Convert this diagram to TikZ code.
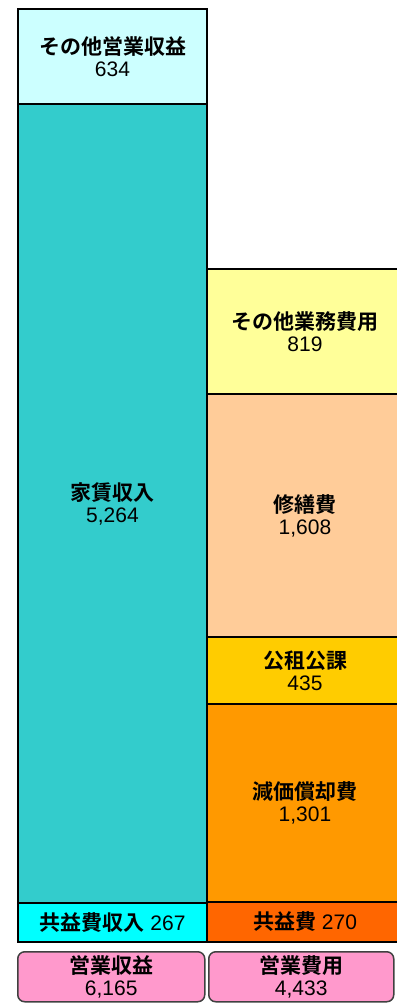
\documentclass[tikz,border=0pt]{standalone}
\usepackage{fontspec}
\usepackage{tikz}
\setmainfont{Liberation Sans}
\newfontfamily\jp{Noto Sans CJK JP}[BoldFont={Noto Sans CJK JP Bold}]
\definecolor{othinc}{HTML}{CCFFFF}
\definecolor{rentc}{HTML}{33CCCC}
\definecolor{kyoinc}{HTML}{00FFFF}
\definecolor{othexp}{HTML}{FFFF99}
\definecolor{repairc}{HTML}{FFCC99}
\definecolor{taxc}{HTML}{FFCC00}
\definecolor{deprc}{HTML}{FF9900}
\definecolor{kyoexp}{HTML}{FF6600}
\definecolor{sumc}{HTML}{FF99CC}
\newcommand\jl[2]{{\jp\bfseries #1}\\#2}
\tikzset{
	block/.style={draw=black, line width=2pt, inner sep=0pt, anchor=north west,
		align=center, font=\fontsize{21}{22}\selectfont},
	pill/.style={block, draw=black!75, line width=1.5pt, rounded corners=7pt, fill=sumc},
}

\begin{document}
\begin{tikzpicture}[x=1pt, y=-1pt]
		\useasboundingbox (0,0) rectangle (396,1003);
		\coordinate (L) at (17, 0);
		\coordinate (R) at (206, 0);

		\foreach \name/\top/\h/\col/\txt in {
				othinc/8/95/othinc/{\jl{その他営業収益}{634}},
				rent/103/799/rentc/{\jl{家賃収入}{5,264}},
				kyoinc/902/39/kyoinc/{{\jp\bfseries 共益費収入} 267}} {
			\node[block, fill=\col, minimum width=189pt, minimum height=\h pt] (\name)
				at ([yshift=-\top pt]L) {\txt};
		}
		\foreach \name/\top/\h/\col/\txt in {
				othexp/268/125/othexp/{\jl{その他業務費用}{819}},
				repair/393/243/repairc/{\jl{修繕費}{1,608}},
				tax/636/67/taxc/{\jl{公租公課}{435}},
				depr/703/198/deprc/{\jl{減価償却費}{1,301}},
				kyoexp/901/40/kyoexp/{{\jp\bfseries 共益費} 270}} {
			\node[block, fill=\col, minimum width=196pt, minimum height=\h pt] (\name)
				at ([yshift=-\top pt]R) {\txt};
		}
		\node[pill, minimum width=187pt, minimum height=50pt] (income) at (17, 951) {\jl{営業収益}{6,165}};
		\node[pill, minimum width=185pt, minimum height=50pt] (expense) at (208, 951) {\jl{営業費用}{4,433}};
	\end{tikzpicture}
\end{document}
